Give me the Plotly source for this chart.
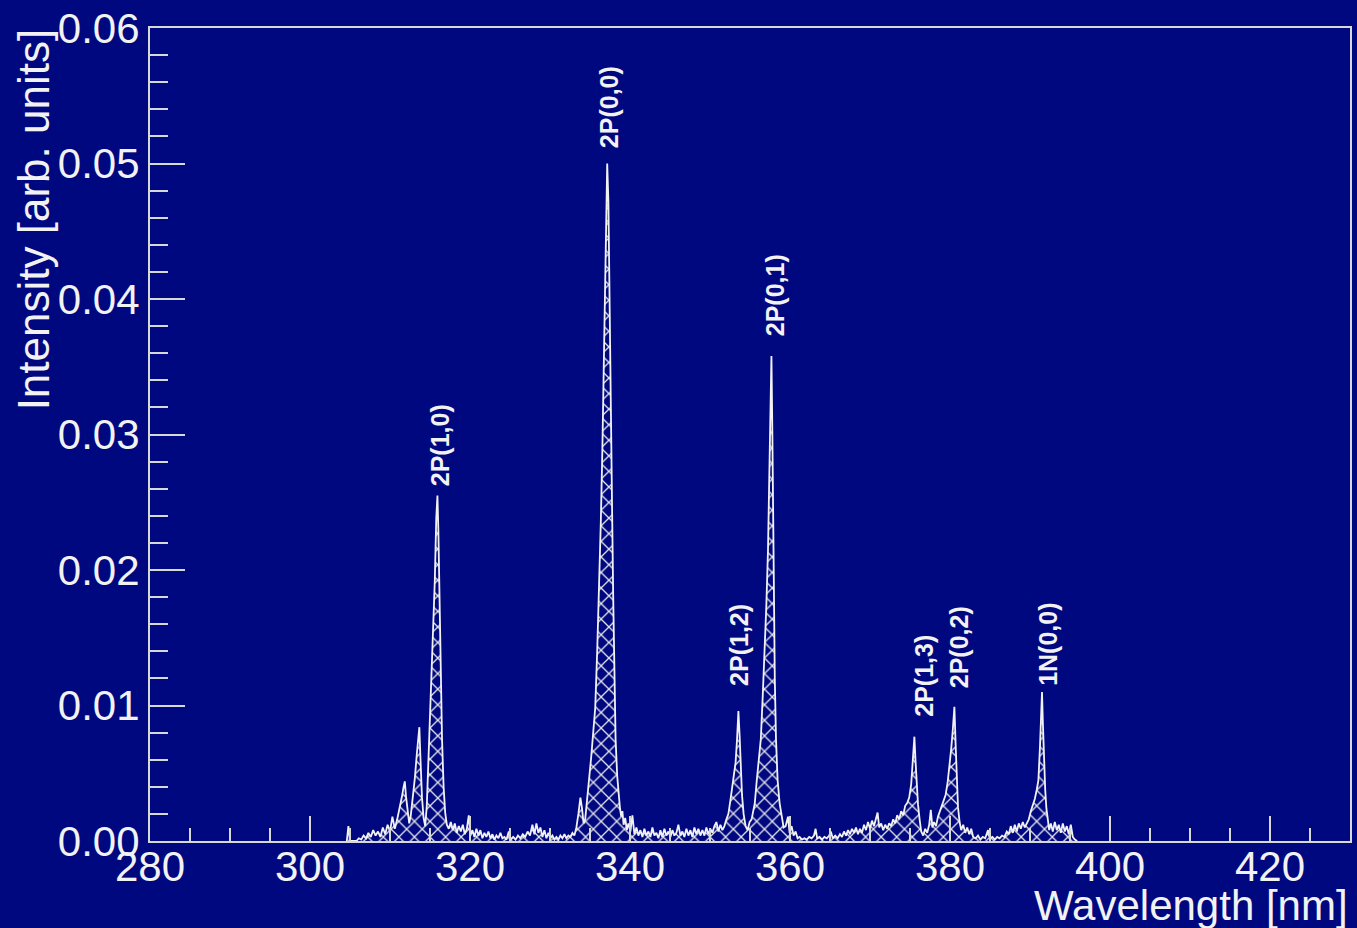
import plotly.graph_objects as go

# ---- spectrum ----
wavelength = [
    304.6, 304.8, 305.0, 305.8, 306.1, 306.4, 306.7, 307.0, 307.3, 307.6, 307.9, 308.2, 308.5,
    308.8, 309.1, 309.4, 309.7, 310.0, 310.3, 310.6,
    310.9, 311.2, 311.5, 311.7, 311.85, 312.0, 312.2, 312.4, 312.6, 312.85, 313.1, 313.35,
    313.55, 313.67, 313.8, 314.0, 314.2, 314.4, 314.6, 314.8, 315.0, 315.2, 315.4, 315.6,
    315.78, 315.93, 316.05, 316.2, 316.35, 316.5, 316.7, 316.9, 317.1,
    317.35, 317.6, 317.85, 318.1, 318.35, 318.6, 318.85, 319.1, 319.35, 319.6, 319.85, 320.05,
    320.3, 320.55, 320.8, 321.05, 321.3, 321.55, 321.8, 322.05, 322.3, 322.55, 322.8, 323.05,
    323.3, 323.55, 323.8, 324.05, 324.3, 324.55, 324.85, 325.1, 325.4, 325.7, 326.0, 326.3,
    326.6, 326.9, 327.2, 327.5, 327.8, 328.05, 328.3, 328.55, 328.8, 329.05, 329.3, 329.55,
    329.8, 330.05, 330.3, 330.55, 330.8, 331.05, 331.3, 331.55, 331.8, 332.05, 332.3, 332.55,
    332.8, 333.05, 333.3, 333.55, 333.8, 334.0, 334.2, 334.4,
    334.65, 334.9, 335.15, 335.4, 335.65, 335.9, 336.15, 336.35, 336.55, 336.75, 336.95,
    337.15, 337.3, 337.45, 337.6, 337.75, 337.9, 338.05, 338.2, 338.4, 338.6, 338.75, 338.9,
    339.05, 339.2, 339.4, 339.6, 339.8,
    340.05, 340.3, 340.55, 340.8, 341.05, 341.3, 341.55, 341.8, 342.05, 342.3, 342.55, 342.8,
    343.05, 343.3, 343.55, 343.8, 344.05, 344.3, 344.55, 344.8, 345.05, 345.3, 345.55, 345.8,
    346.05, 346.3, 346.55, 346.8, 347.05, 347.3, 347.55, 347.8, 348.05, 348.3, 348.55, 348.8,
    349.05, 349.3, 349.55, 349.8, 350.05, 350.3, 350.55, 350.8, 351.05, 351.3, 351.55, 351.8,
    352.05, 352.3, 352.55, 352.8, 353.0, 353.2, 353.38, 353.55, 353.7, 353.85, 354.0, 354.2,
    354.45, 354.7, 354.95, 355.2, 355.4, 355.6, 355.85, 356.1, 356.35, 356.6, 356.85, 357.05,
    357.25, 357.45, 357.58, 357.68, 357.8, 357.95, 358.1, 358.25, 358.45, 358.7, 358.95, 359.2,
    359.45, 359.75, 359.95, 360.2, 360.45, 360.7, 360.95, 361.2, 361.5, 361.8, 362.1, 362.4,
    362.7, 363.0, 363.2, 363.4, 363.7, 364.0, 364.3, 364.6, 364.9, 365.1, 365.35, 365.65,
    365.95, 366.25, 366.5, 366.75, 367.0, 367.25, 367.5, 367.75, 368.0, 368.25, 368.5, 368.75,
    369.0, 369.25, 369.5, 369.75, 370.0, 370.25, 370.5, 370.75, 370.95, 371.15, 371.4, 371.65,
    371.9, 372.15, 372.4, 372.65, 372.9, 373.15, 373.4, 373.65, 373.9, 374.15,
    374.4, 374.65, 374.9, 375.15, 375.35, 375.55, 375.7, 375.85, 376.0, 376.2, 376.4, 376.65,
    376.9, 377.15, 377.4, 377.6, 377.8, 378.0, 378.25,
    378.5, 378.75, 379.0, 379.2, 379.45, 379.7, 379.95, 380.15, 380.35, 380.55, 380.7, 380.85,
    381.0, 381.2, 381.4, 381.65, 381.9, 382.15, 382.4, 382.65,
    382.9, 383.2, 383.5, 383.8, 384.1, 384.4, 384.75, 385.0, 385.3, 385.6, 385.9, 386.2,
    386.5, 386.8, 387.1, 387.35, 387.6, 387.85, 388.1, 388.35, 388.6, 388.85, 389.1, 389.35,
    389.6, 389.85, 390.1, 390.35, 390.6, 390.85, 391.05, 391.25, 391.4, 391.5, 391.62, 391.75,
    391.9, 392.05, 392.2, 392.4,
    392.6, 392.85, 393.1, 393.35, 393.6, 393.85, 394.1, 394.35, 394.6, 394.85, 395.1, 395.35,
    395.6, 395.9,
]
intensity = [
    0.0000, 0.0011, 0.0000, 0.0000, 0.0002, 0.0001, 0.0004, 0.0002, 0.0006, 0.0003, 0.0008, 0.0004, 0.0007,
    0.0003, 0.0010, 0.0005, 0.0012, 0.0007, 0.0018, 0.0009,
    0.0016, 0.0024, 0.0033, 0.0040, 0.0044, 0.0033, 0.0021, 0.0013, 0.0019, 0.0031, 0.0046, 0.0064,
    0.0078, 0.0084, 0.0062, 0.0032, 0.0017, 0.0011, 0.0026, 0.0060, 0.0086, 0.0115, 0.0148, 0.0192,
    0.0238, 0.0255, 0.0228, 0.0172, 0.0125, 0.0076, 0.0040, 0.0021, 0.0012,
    0.0009, 0.0014, 0.0008, 0.0013, 0.0006, 0.0011, 0.0007, 0.0012, 0.0005, 0.0009, 0.0019, 0.0004,
    0.0008, 0.0003, 0.0009, 0.0004, 0.0008, 0.0002, 0.0006, 0.0003, 0.0007, 0.0002, 0.0005, 0.0001,
    0.0004, 0.0002, 0.0006, 0.0002, 0.0003, 0.0001, 0.0007, 0.0001, 0.0003, 0.0001, 0.0004, 0.0002,
    0.0005, 0.0003, 0.0007, 0.0004, 0.0012, 0.0005, 0.0013, 0.0006, 0.0010, 0.0003, 0.0008, 0.0002,
    0.0006, 0.0002, 0.0004, 0.0001, 0.0003, 0.0001, 0.0004, 0.0002, 0.0005, 0.0002, 0.0004, 0.0003,
    0.0006, 0.0004, 0.0010, 0.0020, 0.0032, 0.0024, 0.0013, 0.0016,
    0.0030, 0.0045, 0.0062, 0.0080, 0.0098, 0.0140, 0.0185, 0.0235, 0.0290, 0.0370, 0.0430,
    0.0500, 0.0472, 0.0410, 0.0337, 0.0250, 0.0180, 0.0110, 0.0075, 0.0048, 0.0030, 0.0024, 0.0018,
    0.0022, 0.0012, 0.0017, 0.0008, 0.0013,
    0.0007, 0.0019, 0.0005, 0.0010, 0.0004, 0.0008, 0.0003, 0.0009, 0.0004, 0.0007, 0.0003, 0.0010,
    0.0004, 0.0006, 0.0002, 0.0008, 0.0003, 0.0009, 0.0004, 0.0007, 0.0003, 0.0008, 0.0004, 0.0006,
    0.0012, 0.0004, 0.0007, 0.0003, 0.0009, 0.0004, 0.0008, 0.0003, 0.0010, 0.0005, 0.0009, 0.0004,
    0.0008, 0.0004, 0.0010, 0.0005, 0.0009, 0.0006, 0.0011, 0.0014, 0.0007, 0.0012, 0.0008, 0.0011,
    0.0016, 0.0020, 0.0030, 0.0040, 0.0047, 0.0058, 0.0075, 0.0096, 0.0078, 0.0052, 0.0034, 0.0020,
    0.0011, 0.0008, 0.0014, 0.0016, 0.0022, 0.0028, 0.0045, 0.0062, 0.0075, 0.0108, 0.0141, 0.0175,
    0.0215, 0.0290, 0.0330, 0.0358, 0.0298, 0.0197, 0.0120, 0.0075, 0.0045, 0.0028, 0.0019, 0.0010,
    0.0011, 0.0018, 0.0006, 0.0011, 0.0004, 0.0007, 0.0002, 0.0003, 0.0001, 0.0002, 0.0001, 0.0003,
    0.0002, 0.0004, 0.0009, 0.0002, 0.0003, 0.0001, 0.0003, 0.0002, 0.0004, 0.0007, 0.0002, 0.0004,
    0.0002, 0.0005, 0.0003, 0.0007, 0.0004, 0.0008, 0.0005, 0.0009, 0.0006, 0.0010, 0.0005, 0.0009,
    0.0006, 0.0012, 0.0008, 0.0014, 0.0009, 0.0015, 0.0011, 0.0017, 0.0021, 0.0010, 0.0013, 0.0008,
    0.0012, 0.0009, 0.0013, 0.0011, 0.0016, 0.0013, 0.0019, 0.0016, 0.0022, 0.0019,
    0.0026, 0.0028, 0.0032, 0.0042, 0.0058, 0.0077, 0.0058, 0.0038, 0.0027, 0.0016, 0.0007, 0.0004,
    0.0009, 0.0006, 0.0012, 0.0023, 0.0010, 0.0014, 0.0011,
    0.0018, 0.0022, 0.0026, 0.0029, 0.0034, 0.0043, 0.0055, 0.0068, 0.0082, 0.0099, 0.0072, 0.0040,
    0.0025, 0.0014, 0.0008, 0.0012, 0.0006, 0.0010, 0.0005, 0.0009,
    0.0003, 0.0002, 0.0004, 0.0001, 0.0003, 0.0002, 0.0008, 0.0002, 0.0003, 0.0001, 0.0003, 0.0002,
    0.0004, 0.0003, 0.0007, 0.0005, 0.0011, 0.0006, 0.0012, 0.0007, 0.0013, 0.0009, 0.0014, 0.0010,
    0.0013, 0.0016, 0.0022, 0.0026, 0.0031, 0.0038, 0.0045, 0.0070, 0.0095, 0.0110, 0.0085, 0.0055,
    0.0038, 0.0024, 0.0016, 0.0008,
    0.0013, 0.0007, 0.0014, 0.0008, 0.0012, 0.0006, 0.0013, 0.0007, 0.0011, 0.0005, 0.0012, 0.0003,
    0.0001, 0.0000,
]

# ---- peak labels ----
label_text = ["2P(1,0)", "2P(0,0)", "2P(0,1)", "2P(1,2)", "2P(1,3)", "2P(0,2)", "1N(0,0)"]
label_wl = [316.19, 337.40, 358.12, 353.63, 376.71, 381.08, 392.31]
label_int = [0.0260, 0.0510, 0.0371, 0.0113, 0.0090, 0.0111, 0.0113]

x_tick_vals = [280, 300, 320, 340, 360, 380, 400, 420]
y_tick_vals = [0.00, 0.01, 0.02, 0.03, 0.04, 0.05, 0.06]
y_tick_text = ["0.00", "0.01", "0.02", "0.03", "0.04", "0.05", "0.06"]

BG = "#000880"
FG = "#f2f2f2"
AX = "#d8d8d8"
FONT = "Liberation Sans, Arial, sans-serif"

fig = go.Figure()
fig.add_trace(go.Scatter(
    x=wavelength, y=intensity, mode="lines",
    line=dict(color=FG, width=1.8),
    fill="tozeroy",
    fillcolor="rgba(0,0,0,0)",
    fillpattern=dict(shape="x", fgcolor="#e6e6e6", bgcolor="rgba(0,0,0,0)",
                     size=11, solidity=0.22, fillmode="replace"),
    showlegend=False, hoverinfo="skip",
))

annotations = []
for t, xw, yi in zip(label_text, label_wl, label_int):
    annotations.append(dict(
        x=xw, y=yi, xref="x", yref="y", text="<b>%s</b>" % t, showarrow=False,
        textangle=-90, xanchor="center", yanchor="bottom",
        font=dict(family=FONT, size=25, color=FG),
    ))

annotations.append(dict(
    text="Intensity [arb. units]", xref="paper", yref="paper",
    x=-0.0975, y=1.002, xanchor="center", yanchor="top", textangle=-90,
    showarrow=False, font=dict(family=FONT, size=44, color=FG),
))
annotations.append(dict(
    text="Wavelength [nm]", xref="paper", yref="paper",
    x=1.0, y=-0.048, xanchor="right", yanchor="top",
    showarrow=False, font=dict(family=FONT, size=42, color=FG),
))

fig.update_layout(
    width=1357, height=928,
    margin=dict(l=150, r=5, t=25, b=87),
    paper_bgcolor=BG, plot_bgcolor=BG,
    font=dict(family=FONT, color=FG, size=42),
    annotations=annotations,
    xaxis=dict(
        range=[280, 430], tickvals=x_tick_vals, ticks="inside", ticklen=25,
        tickwidth=2, tickcolor=AX, showgrid=False, zeroline=False,
        showline=True, linecolor=AX, linewidth=2, mirror=True,
        ticklabelstandoff=-12,
        minor=dict(dtick=5, tick0=280, ticks="inside", ticklen=13, tickwidth=2, tickcolor=AX,
                   showgrid=False),
        tickfont=dict(family=FONT, size=42, color=FG),
    ),
    yaxis=dict(
        range=[0, 0.06], tickvals=y_tick_vals, ticktext=y_tick_text, ticks="inside",
        ticklen=35, tickwidth=2, tickcolor=AX, showgrid=False, zeroline=False,
        showline=True, linecolor=AX, linewidth=2, mirror=True,
        minor=dict(dtick=0.002, tick0=0, ticks="inside", ticklen=18, tickwidth=2, tickcolor=AX,
                   showgrid=False),
        tickfont=dict(family=FONT, size=42, color=FG),
    ),
)

fig.write_html("out.html")
